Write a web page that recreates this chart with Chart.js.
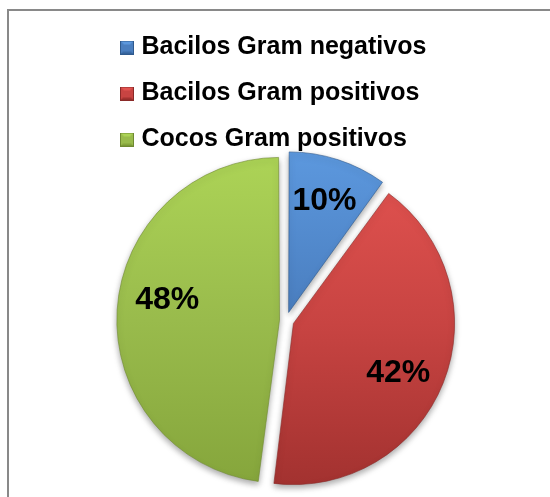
<!DOCTYPE html>
<html>
<head>
<meta charset="utf-8">
<script src="https://cdn.jsdelivr.net/npm/chart.js@4"></script>
<style>
  html, body { margin: 0; padding: 0; background: #fff; }
  #wrap { position: relative; width: 550px; height: 497px; overflow: hidden; }
  #marco { position: absolute; left: 7px; top: 9px; width: 600px; height: 600px;
           border-top: 2px solid #898989; border-left: 2px solid #898989; }
  canvas { position: absolute; left: 0; top: 0; }
</style>
</head>
<body>
<div id="wrap">
  <div id="marco"></div>
  <canvas id="grafico" width="550" height="497"></canvas>
</div>
<script>
const categorias = ["Bacilos Gram negativos", "Bacilos Gram positivos", "Cocos Gram positivos"];
const porcentajes = [10, 42, 48];
const etiquetas = ["10%", "42%", "48%"];

const coresBase = ["#4a7ebf", "#c84442", "#99bb4c"];
const coresClaras = ["#5c98de", "#e25350", "#acd356"];
const coresEscuras = ["#3a6aa6", "#a33230", "#86a63c"];
const coresBorda = ["#2f5a8e", "#8a2a28", "#6f8a31"];

// marcador da legenda com efeito chanfrado
function criarMarcador(i) {
    const c = document.createElement("canvas");
    c.width = 14; c.height = 14;
    const g = c.getContext("2d");
    g.fillStyle = coresBase[i];
    g.fillRect(0, 0, 14, 14);
    g.fillStyle = coresClaras[i];
    g.beginPath(); g.moveTo(0, 0); g.lineTo(14, 0); g.lineTo(7, 7); g.closePath(); g.fill();
    g.fillStyle = coresEscuras[i];
    g.beginPath(); g.moveTo(0, 14); g.lineTo(14, 14); g.lineTo(7, 7); g.closePath(); g.fill();
    g.fillStyle = coresBase[i];
    g.fillRect(3, 4, 8, 7);
    g.strokeStyle = coresBorda[i];
    g.lineWidth = 1;
    g.strokeRect(0.5, 0.5, 13, 13);
    return c;
}
const marcadores = categorias.map((_, i) => criarMarcador(i));

function gradiente(context) {
    const chart = context.chart;
    const area = chart.chartArea;
    const i = context.dataIndex;
    if (!area) return coresBase[i];
    const cy = (area.top + area.bottom) / 2;
    const g = chart.ctx.createLinearGradient(0, cy - 160, 0, cy + 160);
    g.addColorStop(0, coresClaras[i]);
    g.addColorStop(0.5, coresBase[i]);
    g.addColorStop(1, coresEscuras[i]);
    return g;
}

const sombra = {
    id: "sombra",
    beforeDatasetDraw(chart) {
        const ctx = chart.ctx;
        ctx.save();
        ctx.shadowColor = "rgba(0,0,0,0.35)";
        ctx.shadowBlur = 6;
        ctx.shadowOffsetY = 3;
    },
    afterDatasetDraw(chart) {
        chart.ctx.restore();
    }
};

const rotulos = {
    id: "rotulos",
    afterDatasetsDraw(chart) {
        const ctx = chart.ctx;
        const meta = chart.getDatasetMeta(0);
        const giro = [-1, 3, 8];
        const fracao = [0.735, 0.70, 0.70];
        ctx.save();
        ctx.font = "bold 32px 'Liberation Sans', Arial, sans-serif";
        ctx.fillStyle = "#000";
        ctx.textAlign = "center";
        ctx.textBaseline = "alphabetic";
        meta.data.forEach((arco, i) => {
            const p = arco.getProps(["x", "y", "startAngle", "endAngle", "outerRadius", "circumference"], true);
            const meio = (p.startAngle + p.endAngle) / 2;
            const off = (arco.options.offset || 0) / 4;
            const fix = 1 - Math.sin(Math.min(Math.PI, p.circumference || 0));
            const desloc = off + off * fix;
            const cx = p.x + Math.cos(meio) * desloc;
            const cy = p.y + Math.sin(meio) * desloc;
            const ang = meio + giro[i] * Math.PI / 180;
            const d = p.outerRadius * fracao[i];
            ctx.fillText(etiquetas[i], cx + Math.cos(ang) * d + 1, cy + Math.sin(ang) * d + 11.5);
        });
        ctx.restore();
    }
};

const ctx = document.getElementById("grafico").getContext("2d");
const grafico = new Chart(ctx, {
    type: "pie",
    data: {
        labels: categorias,
        datasets: [{
            data: porcentajes,
            backgroundColor: gradiente,
            borderColor: coresBorda.map(c => c + "99"),
            borderWidth: 1,
            offset: [34, 32, 26]
        }]
    },
    options: {
        responsive: false,
        animation: false,
        radius: 157,
        layout: { padding: { top: 14, left: 104, right: 82, bottom: 18 } },
        plugins: {
            tooltip: { enabled: false },
            legend: {
                position: "top",
                align: "start",
                labels: {
                    color: "#000",
                    font: { family: "'Liberation Sans', Arial, sans-serif", size: 25, weight: "bold" },
                    boxWidth: 4,
                    boxHeight: 14,
                    padding: 21,
                    usePointStyle: true,
                    generateLabels(chart) {
                        return categorias.map((txt, i) => ({
                            text: txt,
                            pointStyle: marcadores[i],
                            fillStyle: coresBase[i],
                            strokeStyle: coresBorda[i],
                            lineWidth: 0,
                            hidden: false,
                            index: i
                        }));
                    }
                }
            }
        }
    },
    plugins: [sombra, rotulos]
});
</script>
</body>
</html>
